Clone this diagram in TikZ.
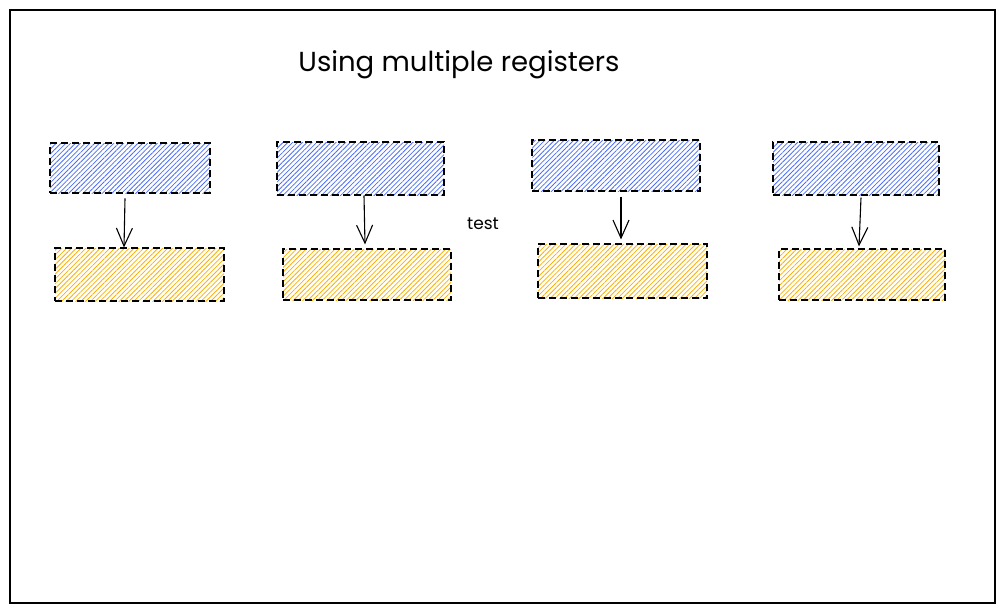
\documentclass[tikz,border=0pt]{standalone}
\usepackage{fontspec}
\setmainfont{Poppins}
\usetikzlibrary{patterns.meta,arrows.meta}
\definecolor{regblue}{HTML}{4C6EF5}
\definecolor{regorange}{HTML}{FAB005}
\tikzset{
	reg/.style={draw=black,line width=1.1pt,dash pattern=on 7pt off 4pt,inner sep=0pt,
		pattern={Lines[angle=45,distance=3.4pt,line width=0.8pt]}},
	src/.style={reg,pattern color=regblue},
	dst/.style={reg,pattern color=regorange},
	load/.style={-{Straight Barb[length=18pt,width=16pt]},line width=1.1pt}
}
\begin{document}
\begin{tikzpicture}[x=1pt,y=-1pt]
	\useasboundingbox (0,0) rectangle (1004,613);
	\draw[line width=1.2pt] (10,10) rectangle (995,603);
	\node (title) at (459,65) {\fontsize{27.5pt}{30pt}\selectfont Using multiple registers};
	\node (lbl) at (483,224) {\fontsize{17pt}{19pt}\selectfont test};
	% first pair
	\node[src,minimum width=160,minimum height=50] (s1) at (130,168) {};
	\node[dst,minimum width=169,minimum height=53] (d1) at (139.5,274.5) {};
	% second pair
	\node[src,minimum width=167,minimum height=53] (s2) at (360.5,168.5) {};
	\node[dst,minimum width=168,minimum height=51] (d2) at (367,274.5) {};
	% third pair
	\node[src,minimum width=168,minimum height=51] (s3) at (616,165.5) {};
	\node[dst,minimum width=169,minimum height=54] (d3) at (622.5,271) {};
	% fourth pair
	\node[src,minimum width=166,minimum height=53] (s4) at (856,168.5) {};
	\node[dst,minimum width=166,minimum height=51] (d4) at (862,274.5) {};
	\draw[load] ([yshift=-5]s1.south -| 125,0) -- (d1.north -| 124,0);
	\draw[load] (s2.south -| 364,0) -- ([yshift=4]d2.north -| 365,0);
	\draw[load] ([yshift=-5]s3.south -| 621,0) -- ([yshift=4]d3.north -| 621,0);
	\draw[load] ([yshift=-2]s4.south -| 861,0) -- ([yshift=2]d4.north -| 859,0);
\end{tikzpicture}
\end{document}
